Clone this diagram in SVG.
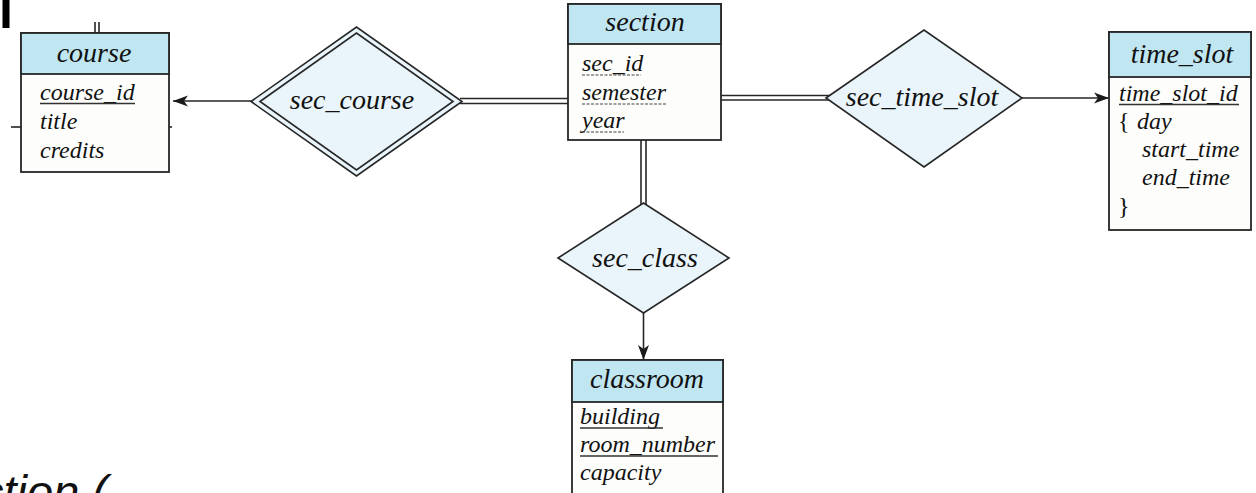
<svg xmlns="http://www.w3.org/2000/svg" width="1256" height="493" viewBox="0 0 1256 493">
<style>
.box{fill:#fdfdfb;stroke:#262626;stroke-width:1.8}
.hdr{fill:#bfe6f1;stroke:#262626;stroke-width:1.8}
.rel{fill:#e9f5fa;stroke:#262626;stroke-width:1.6}
.ln{stroke:#262626;stroke-width:1.6;fill:none}
.t{font-family:"Liberation Serif","Times New Roman",serif;font-style:italic;fill:#111}
.name{font-size:28px;text-anchor:middle}
.att{font-size:24px}
.ul{stroke:#333;stroke-width:1.3}
.dul{stroke:#444;stroke-width:1.2;stroke-dasharray:3 1.5}
</style>
<defs>
<marker id="arr" markerWidth="16" markerHeight="12" refX="15" refY="6" orient="auto" markerUnits="userSpaceOnUse">
<path d="M0,0.5 L15,6 L0,11.5 L4,6 Z" fill="#1a1a1a"/>
</marker>
</defs>
<rect width="1256" height="493" fill="#ffffff"/>
<g id="artifacts">
<rect x="2.5" y="0" width="7" height="28" fill="#000"/>
<line x1="95" y1="22" x2="95" y2="33" class="ln" stroke-width="1.2"/>
<line x1="99" y1="22" x2="99" y2="33" class="ln" stroke-width="1.2"/>
<line x1="11" y1="127" x2="21" y2="127" class="ln" stroke-width="1.4"/>
<line x1="169" y1="127" x2="172" y2="127" class="ln" stroke-width="1.4"/>
</g>
<g id="connectors">
<line x1="251" y1="101" x2="173" y2="101" class="ln" marker-end="url(#arr)"/>
<line x1="460" y1="98.5" x2="568" y2="98.5" class="ln" stroke-width="1.4"/>
<line x1="460" y1="103.5" x2="568" y2="103.5" class="ln" stroke-width="1.4"/>
<line x1="721" y1="95.5" x2="832" y2="95.5" class="ln" stroke-width="1.4"/>
<line x1="721" y1="100" x2="830" y2="100" class="ln" stroke-width="1.4"/>
<line x1="1022" y1="98" x2="1109" y2="98" class="ln" marker-end="url(#arr)"/>
<line x1="641" y1="140" x2="641" y2="206" class="ln" stroke-width="1.4"/>
<line x1="646" y1="140" x2="646" y2="206" class="ln" stroke-width="1.4"/>
<line x1="643.5" y1="313" x2="643.5" y2="360" class="ln" marker-end="url(#arr)"/>
</g>
<g id="sec_course">
<path class="rel" d="M251,101.5 L356.5,27 L462,101.5 L356.5,176 Z"/>
<path class="rel" d="M260,101.5 L356.5,33 L453,101.5 L356.5,170 Z"/>
<text class="t name" x="352" y="109">sec_course</text>
</g>
<g id="sec_time_slot">
<path class="rel" d="M826,98 L924,30 L1022,98 L924,167 Z"/>
<text class="t name" x="922" y="106">sec_time_slot</text>
</g>
<g id="sec_class">
<path class="rel" d="M558,258 L643.5,203 L729,258 L643.5,313 Z"/>
<text class="t name" x="645" y="267">sec_class</text>
</g>
<g id="course">
<rect class="box" x="21" y="33" width="148" height="139"/>
<rect class="hdr" x="21" y="33" width="148" height="41"/>
<text class="t name" x="94" y="62">course</text>
<text class="t att" x="40" y="100">course_id</text>
<line class="ul" x1="40" y1="103.5" x2="135" y2="103.5"/>
<text class="t att" x="40" y="129">title</text>
<text class="t att" x="40" y="158">credits</text>
</g>
<g id="section">
<rect class="box" x="568" y="4" width="153" height="136"/>
<rect class="hdr" x="568" y="4" width="153" height="40"/>
<text class="t name" x="645" y="31">section</text>
<text class="t att" x="582" y="71">sec_id</text>
<line class="dul" x1="582" y1="75" x2="641" y2="75"/>
<text class="t att" x="582" y="100">semester</text>
<line class="dul" x1="582" y1="104" x2="666" y2="104"/>
<text class="t att" x="582" y="128">year</text>
<line class="dul" x1="582" y1="132" x2="624" y2="132"/>
</g>
<g id="time_slot">
<rect class="box" x="1109" y="32" width="142" height="198"/>
<rect class="hdr" x="1109" y="32" width="142" height="45"/>
<text class="t name" x="1182" y="63">time_slot</text>
<text class="t att" x="1119" y="101">time_slot_id</text>
<line class="ul" x1="1119" y1="104.5" x2="1239" y2="104.5"/>
<text class="att" x="1118" y="129" font-family="Liberation Serif, serif" fill="#111">{</text>
<text class="t att" x="1137" y="129">day</text>
<text class="t att" x="1142" y="157">start_time</text>
<text class="t att" x="1142" y="185">end_time</text>
<text class="att" x="1118" y="214" font-family="Liberation Serif, serif" fill="#111">}</text>
</g>
<g id="classroom">
<rect class="box" x="572" y="360" width="151" height="140"/>
<rect class="hdr" x="572" y="360" width="151" height="42"/>
<text class="t name" x="647" y="388">classroom</text>
<text class="t att" x="580" y="424">building</text>
<line class="ul" x1="580" y1="428" x2="663" y2="428"/>
<text class="t att" x="580" y="452">room_number</text>
<line class="ul" x1="580" y1="456" x2="718" y2="456"/>
<text class="t att" x="580" y="480">capacity</text>
</g>
<g id="caption">
<text x="-20" y="508" font-family="Liberation Sans, Arial, sans-serif" font-style="italic" font-size="47" fill="#111">ction (</text>
</g>
</svg>
